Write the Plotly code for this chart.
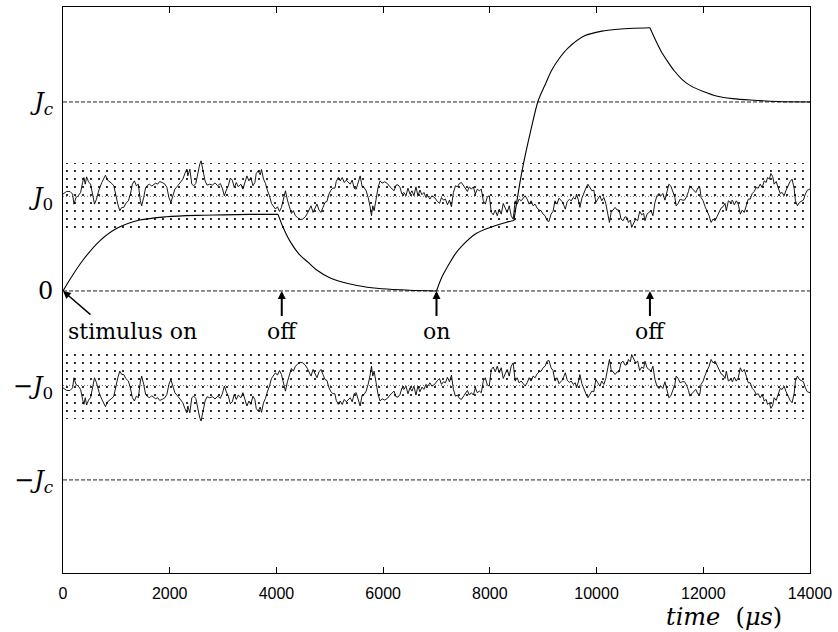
import plotly.graph_objects as go

# ---------------- data ----------------
J0 = 1.0
Jc = 2.0
band_half = 0.355
t_max = 14000

# upper noisy trace (around +J0); the reference's lower trace is its mirror image
noise_t = [0, 68, 131, 180, 205, 243, 286, 330, 367, 392, 417, 442, 479, 516, 554, 591, 628, 678, 728, 765, 796, 834, 877, 915, 952, 989, 1027, 1064, 1101, 1139, 1176, 1226, 1263, 1300, 1338, 1375, 1412, 1450, 1475, 1512, 1549, 1587, 1624, 1661, 1699, 1736, 1773, 1811, 1860, 1910, 1947, 1985, 2022, 2060, 2097, 2134, 2172, 2209, 2246, 2284, 2321,
           2339, 2377, 2414, 2451, 2489, 2526, 2563, 2588, 2625, 2663, 2700, 2750, 2800, 2849, 2899, 2949, 2986, 3024, 3061, 3098, 3136, 3173, 3210, 3248, 3285, 3335, 3372, 3409, 3447, 3484, 3521, 3559, 3596, 3621, 3658, 3696, 3720, 3758, 3795, 3833, 3870, 3907, 3945, 3982, 4019, 4057, 4094, 4131, 4169, 4206, 4243, 4281, 4318, 4355, 4393, 4442, 4492, 4542, 4579,
           4611, 4648, 4686, 4723, 4760, 4798, 4835, 4872, 4910, 4947, 4984, 5022, 5059, 5096, 5121, 5159, 5196, 5233, 5271, 5308, 5345, 5383, 5420, 5457, 5495, 5532, 5569, 5607, 5644, 5681, 5719, 5756, 5781, 5806, 5831, 5868, 5905, 5943, 5980, 6030, 6079, 6129, 6167, 6204, 6241, 6279, 6316, 6353, 6391, 6428, 6465, 6503, 6540, 6577, 6615, 6652, 6689, 6727, 6764, 6801, 6839, 6876, 6913, 6963,
           7019, 7056, 7093, 7131, 7168, 7205, 7243, 7280, 7317, 7355, 7392, 7429, 7467, 7504, 7541, 7579, 7616, 7653, 7691, 7728, 7765, 7803, 7840, 7877, 7915, 7952, 7989, 8027, 8064, 8101, 8139, 8176, 8213, 8251, 8288, 8325, 8363, 8400, 8437, 8475, 8512, 8549, 8587, 8624, 8661, 8699, 8736, 8773, 8811, 8848, 8885, 8923, 8960, 8997, 9035, 9072, 9109, 9147, 9184, 9221, 9259, 9296,
           9314, 9352, 9389, 9414, 9451, 9489, 9526, 9563, 9601, 9625, 9663, 9688, 9725, 9762, 9800, 9837, 9874, 9912, 9949, 9986, 10024, 10061, 10098, 10136, 10173, 10210, 10241, 10273, 10310, 10347, 10385, 10422, 10459, 10496, 10534, 10571, 10596, 10633, 10658, 10696, 10733, 10770, 10808, 10845, 10882, 10907, 10945, 10982, 11019, 11056, 11094, 11131, 11169, 11206, 11243, 11281, 11318, 11355, 11393, 11430, 11467, 11492, 11529, 11567, 11604,
           11648, 11686, 11723, 11748, 11785, 11823, 11860, 11897, 11935, 11959, 11997, 12034, 12071, 12109, 12146, 12183, 12221, 12258, 12295, 12333, 12370, 12407, 12432, 12470, 12507, 12544, 12582, 12619, 12656, 12694, 12731, 12768, 12806, 12843, 12880, 12918, 12955, 12992, 13030, 13067, 13104, 13142, 13179, 13204, 13241, 13266, 13303, 13328, 13366, 13403, 13440, 13478, 13515, 13552, 13590, 13627, 13664, 13702, 13727, 13764, 13801, 13839, 13876, 13913, 13950, 14000]
noise_v = [1.025, 1.053, 1.053, 1.025, 0.919, 0.989, 1.007, 1.042, 1.148, 1.20, 1.13, 1.208, 1.155, 1.13, 1.025, 0.919, 0.972, 1.077, 1.148, 1.183, 1.225, 1.173, 1.158, 1.137, 1.113, 1.007, 0.919, 0.849, 0.884, 0.884, 0.926, 0.954, 1.025, 1.13, 1.165, 1.113, 1.13, 0.954, 0.901, 0.989, 1.095, 1.12, 1.13, 1.109, 1.13, 1.141, 1.13, 1.158, 1.148, 1.13, 1.095, 0.989, 0.937, 1.007, 1.077, 1.102, 1.13, 1.158, 1.183, 1.243, 1.289,
           1.218, 1.289, 1.13, 1.113, 1.137, 1.254, 1.342, 1.377, 1.254, 1.165, 1.12, 1.13, 1.12, 1.144, 1.113, 1.137, 1.088, 1.007, 1.067, 1.113, 1.194, 1.173, 1.095, 1.148, 1.102, 1.13, 1.077, 1.148, 1.218, 1.165, 1.201, 1.113, 1.148, 1.243, 1.271, 1.229, 1.285, 1.183, 1.137, 1.06, 1.007, 0.926, 0.891, 0.866, 0.891, 0.842, 0.884, 0.989, 1.06, 0.961, 0.884, 0.82, 0.849, 0.796, 0.778, 0.754, 0.761, 0.785, 0.82,
           0.866, 0.901, 0.831, 0.877, 0.919, 0.856, 0.831, 0.884, 0.937, 0.947, 1.025, 1.067, 1.088, 1.088, 1.158, 1.201, 1.165, 1.201, 1.148, 1.173, 1.148, 1.13, 1.173, 1.088, 1.077, 1.158, 1.218, 1.102, 1.095, 1.06, 0.989, 0.891, 0.796, 0.901, 0.849, 0.972, 1.095, 1.165, 1.141, 1.155, 1.137, 1.102, 1.077, 1.06, 1.12, 1.123, 1.095, 1.025, 1.042, 1.007, 1.088, 1.025, 1.06, 1.007, 1.102, 1.007, 1.067, 1.018, 1.042, 0.989, 1.007, 0.972, 1.007, 0.989,
           0.947, 0.926, 0.989, 0.961, 0.972, 0.912, 0.961, 0.891, 1.042, 1.113, 1.102, 1.137, 1.148, 1.113, 1.088, 1.053, 1.102, 1.077, 1.102, 1.025, 1.077, 1.06, 1.077, 0.954, 0.919, 0.996, 1.007, 0.831, 0.806, 0.856, 0.796, 0.866, 0.813, 0.926, 0.877, 0.831, 0.901, 0.796, 0.761, 0.954, 0.919, 0.972, 0.954, 0.982, 1.007, 0.972, 0.919, 0.954, 0.901, 0.919, 0.877, 0.856, 0.849, 0.813, 0.796, 0.743, 0.736, 0.813, 0.842, 0.954, 0.919, 0.982,
           0.968, 0.947, 0.901, 0.866, 0.947, 0.968, 0.954, 0.989, 0.972, 1.025, 0.954, 0.884, 0.982, 1.042, 1.088, 1.13, 1.102, 1.06, 1.067, 0.937, 0.972, 1.007, 0.954, 0.989, 0.926, 0.813, 0.725, 0.831, 0.856, 0.884, 0.856, 0.856, 0.761, 0.743, 0.785, 0.778, 0.725, 0.750, 0.673, 0.715, 0.761, 0.743, 0.842, 0.806, 0.820, 0.743, 0.813, 0.831, 0.849, 0.796, 0.937, 1.007, 1.032, 1.007, 1.032, 0.961, 1.06, 1.13, 1.109, 1.053, 0.989, 0.901, 0.926, 0.972, 0.961,
           0.961, 0.996, 1.053, 1.113, 1.088, 1.06, 1.042, 1.088, 1.095, 0.989, 0.954, 0.891, 0.842, 0.796, 0.725, 0.761, 0.743, 0.792, 0.831, 0.877, 0.891, 0.926, 0.849, 0.954, 0.937, 0.961, 0.912, 0.954, 0.919, 0.813, 0.856, 0.831, 0.901, 0.972, 0.972, 1.032, 1.053, 1.095, 1.088, 1.13, 1.095, 1.165, 1.148, 1.201, 1.183, 1.243, 1.208, 1.13, 1.158, 1.102, 1.032, 1.042, 1.007, 1.067, 1.113, 1.158, 1.183, 1.088, 0.954, 0.901, 0.937, 0.947, 0.961, 1.025, 1.067, 1.077]

# smooth response curve, one list pair per segment (stimulus on/off switching)
seg_t = [
    [0, 150, 379, 690, 1002, 1437, 1935, 2500, 3000, 3500, 4030],
    [4030, 4112, 4250, 4424, 4600, 4735, 5000, 5357, 5700, 5979, 6500, 7000],
    [7000, 7099, 7200, 7349, 7500, 7722, 7900, 8095, 8300, 8450],
    [8450, 8593, 8780, 8904, 9050, 9153, 9300, 9464, 9775, 10100, 10397, 10700, 11000],
    [11000, 11100, 11206, 11330, 11455, 11600, 11766, 12000, 12264, 12550, 12886, 13400, 14000],
]
seg_v = [
    [0, 0.14, 0.33, 0.53, 0.66, 0.75, 0.785, 0.80, 0.805, 0.81, 0.81],
    [0.81, 0.69, 0.53, 0.39, 0.30, 0.23, 0.14, 0.076, 0.04, 0.023, 0.008, 0.0],
    [0.0, 0.146, 0.25, 0.39, 0.49, 0.60, 0.65, 0.69, 0.725, 0.745],
    [0.745, 1.24, 1.73, 2.01, 2.20, 2.33, 2.46, 2.57, 2.70, 2.75, 2.77, 2.78, 2.785],
    [2.785, 2.66, 2.54, 2.43, 2.33, 2.24, 2.17, 2.11, 2.06, 2.035, 2.02, 2.005, 2.0],
]

x_ticks = [0, 2000, 4000, 6000, 8000, 10000, 12000, 14000]
y_ticks = [-2, -1, 0, 1, 2]
y_ticktext = ["\u2212<i>J<sub>c</sub></i>", "\u2212<i>J</i><sub>0</sub>", "0",
              "<i>J</i><sub>0</sub>", "<i>J<sub>c</sub></i>"]

events = [(4100, "off"), (7000, "on"), (11000, "off")]

# ---------------- figure ----------------
fig = go.Figure()

pattern = dict(shape=".", fgcolor="black", bgcolor="rgba(255,255,255,0)", fgopacity=1,
               size=8, solidity=0.06)
for c in (J0, -J0):
    fig.add_trace(go.Scatter(
        x=[0, t_max, t_max, 0, 0],
        y=[c - band_half, c - band_half, c + band_half, c + band_half, c - band_half],
        fill="toself", mode="lines", line=dict(width=0, color="rgba(0,0,0,0)"),
        fillcolor="rgba(255,255,255,0)", fillpattern=pattern, hoverinfo="skip"))

for lvl in (Jc, 0, -Jc):
    fig.add_trace(go.Scatter(x=[0, t_max], y=[lvl, lvl], mode="lines",
                             line=dict(color="#222", width=1, dash="4px,2px")))
for lvl in (J0, -J0):
    fig.add_trace(go.Scatter(x=[0, t_max], y=[lvl, lvl], mode="lines",
                             line=dict(color="#777", width=1, dash="1px,2px")))

fig.add_trace(go.Scatter(x=noise_t, y=noise_v, mode="lines",
                         line=dict(color="black", width=0.9)))
fig.add_trace(go.Scatter(x=noise_t, y=[-v for v in noise_v], mode="lines",
                         line=dict(color="black", width=0.9)))

for ts, vs in zip(seg_t, seg_v):
    fig.add_trace(go.Scatter(x=ts, y=vs, mode="lines",
                             line=dict(color="black", width=1.1, shape="spline", smoothing=0.8)))

serif = "DejaVu Serif"
ann = []
ann.append(dict(x=0, y=0, ax=29, ay=25, text="", showarrow=True, arrowhead=2,
                arrowsize=1.1, arrowwidth=1.4, arrowcolor="black"))
ann.append(dict(x=1307, y=-0.43, text="stimulus on", showarrow=False,
                font=dict(family=serif, size=22, color="black")))
for t, lab in events:
    ann.append(dict(x=t, y=0, ax=0, ay=41, text=lab, showarrow=True, arrowhead=2,
                    arrowsize=0.8, arrowwidth=2, arrowcolor="black", standoff=0,
                    startstandoff=2,
                    font=dict(family=serif, size=22, color="black")))
ann.append(dict(xref="paper", yref="paper", x=(787 - 63) / 750, y=(573 - 617) / 567,
                xanchor="right", yanchor="middle", showarrow=False,
                text="<i>time</i>  (<i>\u03bcs</i>)",
                font=dict(family=serif, size=24, color="black")))

fig.update_layout(
    width=838, height=632,
    margin=dict(l=63, r=25, t=6, b=59),
    paper_bgcolor="white", plot_bgcolor="white",
    showlegend=False,
    annotations=ann,
    xaxis=dict(range=[0, t_max], tickvals=x_ticks, ticktext=[str(v) for v in x_ticks],
               ticks="inside", ticklen=6, tickcolor="black", showline=True, linecolor="black",
               linewidth=1, mirror="ticks", showgrid=False, zeroline=False,
               ticklabelstandoff=6,
               tickfont=dict(family="Liberation Sans", size=16, color="black")),
    yaxis=dict(range=[-2.985, 3.005], tickvals=y_ticks, ticktext=y_ticktext,
               ticks="", showline=True, linecolor="black", linewidth=1, mirror=True,
               showgrid=False, zeroline=False, ticklabelstandoff=4,
               tickfont=dict(family=serif, size=24, color="black")),
)

fig.write_html("out.html")
